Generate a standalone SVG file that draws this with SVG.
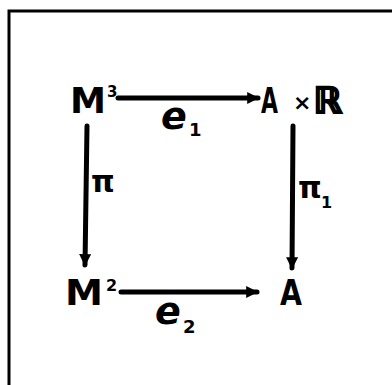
<svg xmlns="http://www.w3.org/2000/svg" width="392" height="385" viewBox="0 0 392 385">
<style>
.t{font-family:"DejaVu Sans",sans-serif;font-weight:bold;fill:#000}
.l{stroke:#000;stroke-width:5;stroke-linecap:round;fill:none}
</style>
<defs>
<marker id="ah" viewBox="0 0 10 10" refX="9" refY="5" markerWidth="3.2" markerHeight="2.4" orient="auto" markerUnits="strokeWidth">
<path d="M0,0 L10,5 L0,10 z" fill="#000"/>
</marker>
</defs>
<rect width="392" height="385" fill="#fff"/>
<path d="M9,385 L9,11 L392,11" stroke="#000" stroke-width="3" fill="none"/>
<g id="connectors">
<line class="l" x1="118" y1="98" x2="258" y2="98" marker-end="url(#ah)"/>
<line class="l" x1="87" y1="126" x2="85" y2="265" marker-end="url(#ah)"/>
<line class="l" x1="293" y1="126" x2="292" y2="268" marker-end="url(#ah)"/>
<line class="l" x1="121" y1="292" x2="257" y2="292" marker-end="url(#ah)"/>
</g>
<g id="M3"><text class="t" x="70" y="113" font-size="36" textLength="36" lengthAdjust="spacingAndGlyphs">M</text><text class="t" x="107" y="97" font-size="15">3</text></g>
<g id="AxR"><text class="t" x="261" y="113" font-size="35" textLength="17" lengthAdjust="spacingAndGlyphs">A</text><text class="t" x="293" y="110" font-size="22">×</text><text class="t" x="313" y="113" font-size="36" stroke="#000" stroke-width="2">ℝ</text></g>
<g id="M2"><text class="t" x="65" y="305" font-size="36" textLength="38" lengthAdjust="spacingAndGlyphs">M</text><text class="t" x="106" y="291" font-size="16">2</text></g>
<g id="A"><text class="t" x="280" y="305" font-size="35" textLength="22" lengthAdjust="spacingAndGlyphs">A</text></g>
<g id="labels">
<text class="t" x="161" y="129" font-size="38" font-style="italic">e</text><text class="t" x="189" y="136" font-size="18">1</text>
<text class="t" x="155" y="324" font-size="38" font-style="italic">e</text><text class="t" x="183" y="333" font-size="18">2</text>
<text class="t" x="91" y="192" font-size="30">π</text>
<text class="t" x="298" y="198" font-size="30">π</text><text class="t" x="321" y="208" font-size="16">1</text>
</g>
</svg>
